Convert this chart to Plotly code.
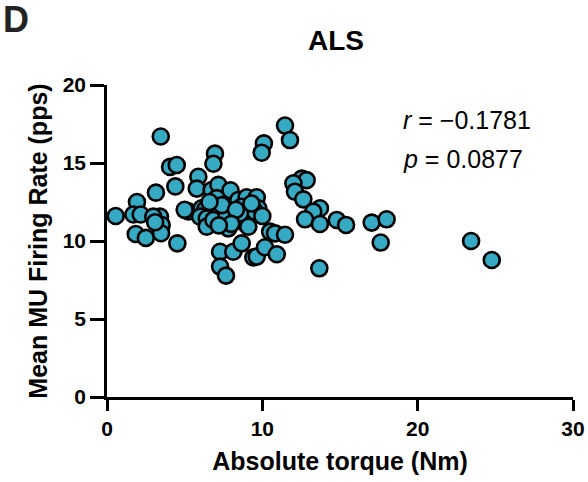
import plotly.graph_objects as go

# Absolute torque (Nm)
torque = [0.56, 3.46, 1.93, 1.70, 2.17, 1.85, 2.50, 3.15, 4.06, 4.49,
          4.40, 4.53, 3.41, 3.52, 3.48, 2.98, 3.10, 5.24, 5.00, 5.88,
          5.78, 6.95, 6.85, 6.74, 7.17, 7.06, 7.95, 6.09, 6.31, 5.99,
          6.42, 6.42, 6.85, 7.70, 7.81, 7.28, 7.28, 7.66, 8.13, 8.67,
          8.45, 8.99, 9.64, 8.67, 8.89, 9.00, 9.64, 9.74, 9.53, 8.56,
          9.10, 9.42, 9.64, 10.17, 10.93, 10.50, 10.82, 11.46, 10.10, 9.96,
          11.46, 11.78, 12.54, 12.85, 12.00, 12.10, 12.64, 13.71, 13.28, 12.75,
          13.71, 14.79, 15.39, 13.67, 17.04, 18.00, 17.62, 23.44, 24.77,
          7.40, 8.30, 9.30, 10.00, 8.00, 6.60, 7.20]
# Mean MU firing rate (pps)
rate = [11.60, 16.70, 12.50, 11.70, 11.70, 10.45, 10.20, 13.10, 14.75, 14.87,
        13.50, 9.85, 11.56, 11.03, 10.50, 11.56, 11.20, 11.90, 12.00, 14.12,
        13.36, 15.60, 14.95, 13.27, 13.60, 12.75, 13.25, 12.10, 12.00, 11.56,
        11.44, 10.92, 11.35, 11.67, 10.81, 9.31, 8.36, 7.78, 9.31, 9.85,
        12.63, 12.80, 12.80, 12.20, 11.35, 11.03, 11.99, 12.10, 11.88, 11.77,
        10.92, 8.95, 9.00, 9.60, 9.15, 10.60, 10.49, 10.40, 16.26, 15.66,
        17.40, 16.47, 14.00, 13.90, 13.70, 13.16, 12.67, 12.10, 11.88, 11.39,
        11.09, 11.35, 11.03, 8.25, 11.18, 11.39, 9.90, 10.00, 8.78,
        12.30, 12.00, 12.40, 11.60, 11.10, 12.50, 11.00]

x_ticks = [0, 10, 20, 30]
y_ticks = [0, 5, 10, 15, 20]

title_text = "ALS"
x_title = "Absolute torque (Nm)"
y_title = "Mean MU Firing Rate (pps)"
r_text = "<i>r</i> = \u22120.1781"
p_text = "<i>p</i> = 0.0877"

FONT = "Arial, Liberation Sans, Helvetica, sans-serif"

fig = go.Figure()
fig.add_trace(go.Scatter(
    x=torque, y=rate, mode="markers",
    marker=dict(size=16, color="#36A9C3", line=dict(color="black", width=2.6)),
    cliponaxis=False, showlegend=False, hoverinfo="skip",
))

W, H = 588, 482
L, R, T, B = 107, 15, 85, 85
pw, ph = W - L - R, H - T - B

def px(xp):
    return (xp - L) / pw

def py(yp):
    return (H - B - yp) / ph

axis_common = dict(
    showline=True, linecolor="black", linewidth=2.6,
    ticks="outside", tickcolor="black", tickwidth=2.6,
    showgrid=False, zeroline=False, automargin=False,
    tickfont=dict(family=FONT, size=21, color="black", weight="bold"),
)

fig.update_layout(
    width=W, height=H,
    margin=dict(l=L, r=R, t=T, b=B),
    plot_bgcolor="white", paper_bgcolor="white",
    xaxis=dict(range=[0, 30], tickvals=x_ticks, ticklen=11,
               title=dict(text=x_title, standoff=14,
                          font=dict(family=FONT, size=25, color="black", weight="bold")),
               **axis_common),
    yaxis=dict(range=[0, 20], tickvals=y_ticks, ticklen=14,
               title=dict(text=y_title, standoff=8,
                          font=dict(family=FONT, size=25, color="black", weight="bold")),
               **axis_common),
    font=dict(family=FONT, color="black"),
)

fig.add_annotation(text=title_text, xref="paper", yref="paper",
                   x=px(336), y=py(40), xanchor="center", yanchor="middle",
                   showarrow=False,
                   font=dict(family=FONT, size=28, color="black", weight="bold"))
fig.add_annotation(text="D", xref="paper", yref="paper",
                   x=px(1), y=py(19), xanchor="left", yanchor="middle",
                   showarrow=False,
                   font=dict(family=FONT, size=36, color="#222222", weight="bold"))
fig.add_annotation(text=r_text, xref="paper", yref="paper",
                   x=px(401), y=py(120), xanchor="left", yanchor="middle",
                   showarrow=False,
                   font=dict(family=FONT, size=25, color="black"))
fig.add_annotation(text=p_text, xref="paper", yref="paper",
                   x=px(401), y=py(159), xanchor="left", yanchor="middle",
                   showarrow=False,
                   font=dict(family=FONT, size=25, color="black"))

fig.write_html("out.html")
